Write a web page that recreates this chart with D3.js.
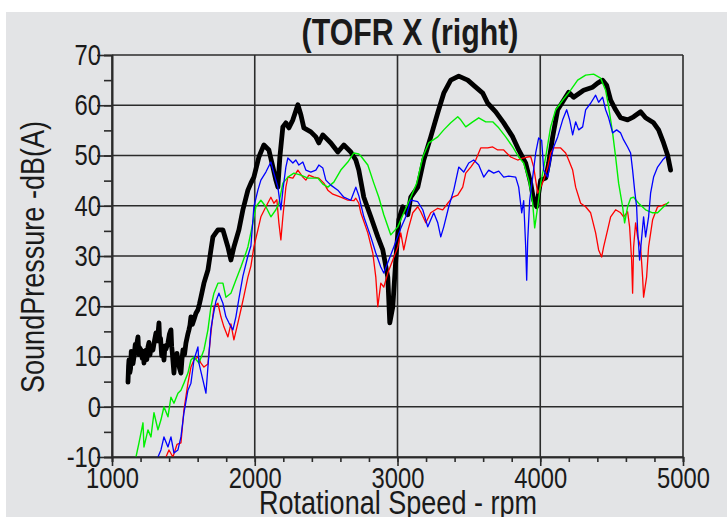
<!DOCTYPE html>
<html>
<head>
<meta charset="utf-8">
<script src="https://cdn.jsdelivr.net/npm/d3@7"></script>
<style>
  html, body { margin: 0; padding: 0; background: #fff; }
  svg { display: block; }
  text { font-family: "Liberation Sans", Arial, sans-serif; fill: #1a1a1a; }
</style>
</head>
<body>
<svg id="chart" width="727" height="517"></svg>
<script>
// Axis ticks
const xTicks = [1000, 2000, 3000, 4000, 5000];
const xMinorTicks = d3.range(1000, 5001, 200);
const yTicks = [-10, 0, 10, 20, 30, 40, 50, 60, 70];
const yMinorTicks = d3.range(-10, 71, 5);

// Series: [rpm, dB(A)]
const black = [
  [1112, 4.9], [1116, 8.1], [1119, 9.3], [1125, 6.8], [1130, 7.6], [1135, 11.0], [1140, 10.5],
  [1147, 8.6], [1154, 9.9], [1163, 12.4], [1170, 10.6], [1176, 12.9], [1182, 13.9], [1188, 10.4],
  [1192, 11.8], [1203, 11.3], [1212, 9.6], [1218, 11.0], [1224, 8.7], [1230, 10.1], [1236, 11.2],
  [1244, 9.4], [1252, 11.9], [1259, 12.8], [1266, 10.3], [1275, 12.0], [1287, 11.3], [1298, 13.2],
  [1308, 14.7], [1318, 13.1], [1329, 16.7], [1334, 13.0], [1340, 13.6], [1348, 10.2], [1357, 11.3],
  [1364, 9.3], [1371, 12.1], [1378, 11.5], [1392, 12.7], [1402, 14.4], [1413, 15.3], [1418, 12.0],
  [1422, 10.9], [1434, 6.7], [1441, 9.8], [1448, 8.4], [1455, 10.6], [1462, 9.3], [1472, 7.8],
  [1483, 6.7], [1490, 9.4], [1497, 11.3], [1508, 10.4], [1518, 12.7], [1530, 14.3], [1539, 15.3],
  [1546, 16.2], [1553, 17.9], [1563, 16.4], [1574, 17.3], [1588, 18.6], [1602, 19.3], [1612, 20.4],
  [1623, 21.8], [1644, 24.6], [1672, 27.2], [1693, 31.2], [1707, 33.8], [1742, 35.2], [1777, 35.2],
  [1812, 31.8], [1833, 29.2], [1854, 31.8], [1889, 35.2], [1917, 39.2], [1952, 43.1], [1973, 44.5],
  [1994, 45.7], [2029, 49.7], [2064, 52.1], [2099, 51.1], [2127, 47.7], [2148, 45.1], [2162, 43.7],
  [2176, 49.7], [2197, 55.7], [2218, 56.5], [2239, 55.5], [2267, 57.1], [2302, 60.1], [2323, 58.1],
  [2344, 55.5], [2393, 54.7], [2428, 53.7], [2449, 52.5], [2477, 54.1], [2533, 52.5], [2582, 50.7],
  [2624, 52.1], [2673, 50.7], [2708, 49.1], [2729, 47.1], [2764, 41.7], [2813, 37.8], [2862, 33.8],
  [2897, 31.2], [2932, 25.8], [2946, 16.7], [2967, 19.9], [2988, 29.2], [3009, 37.2], [3037, 39.8],
  [3072, 38.2], [3093, 41.7], [3142, 43.7], [3184, 49.1], [3233, 53.7], [3282, 58.5], [3324, 62.4],
  [3373, 65.0], [3429, 65.8], [3492, 65.0], [3548, 63.6], [3597, 62.4], [3632, 60.4], [3688, 58.7],
  [3744, 56.5], [3807, 53.7], [3849, 51.1], [3898, 48.5], [3933, 44.5], [3954, 41.1], [3975, 39.8],
  [3989, 42.5], [4003, 45.1], [4038, 45.5], [4059, 48.5], [4087, 53.7], [4122, 59.1], [4164, 61.0],
  [4199, 62.6], [4234, 61.6], [4304, 63.0], [4367, 63.6], [4402, 64.4], [4437, 65.0], [4465, 64.0],
  [4493, 61.0], [4528, 59.1], [4563, 57.5], [4612, 57.1], [4654, 57.7], [4703, 58.7], [4738, 57.5],
  [4794, 56.5], [4829, 55.1], [4864, 52.5], [4892, 50.1], [4913, 47.1]
];

const green = [
  [1168, -10], [1189, -7.2], [1217, -3.2], [1224, -8], [1252, -4.6], [1273, -6], [1294, -1.2],
  [1322, -4.6], [1343, -2.6], [1364, 0.0], [1392, -2], [1413, 1.9], [1434, 0.7], [1462, 2.7],
  [1483, 3.3], [1504, 4.7], [1532, 6.7], [1553, 9.3], [1574, 9.9], [1609, 8.7], [1644, 11.3],
  [1672, 15.3], [1693, 19.9], [1714, 22.6], [1742, 24.6], [1777, 24.6], [1798, 21.8], [1833, 22.6],
  [1868, 25.2], [1903, 27.8], [1938, 30.6], [1952, 31.8], [1987, 36.6], [2008, 39.8], [2043, 41.1],
  [2078, 39.8], [2113, 37.8], [2148, 39.2], [2169, 40.5], [2197, 44.5], [2232, 45.7], [2274, 46.5],
  [2323, 46.1], [2372, 45.5], [2442, 45.5], [2477, 44.3], [2512, 43.7], [2554, 44.7], [2603, 47.1],
  [2652, 48.7], [2694, 50.5], [2729, 50.3], [2743, 49.9], [2792, 48.1], [2834, 44.5], [2869, 41.7],
  [2904, 38.2], [2953, 34.2], [3002, 35.8], [3044, 38.6], [3093, 41.7], [3135, 44.5], [3177, 49.7],
  [3219, 52.5], [3282, 53.7], [3324, 55.1], [3373, 56.5], [3422, 57.7], [3443, 57.1], [3478, 55.7],
  [3527, 56.7], [3569, 57.5], [3618, 56.7], [3667, 56.7], [3709, 55.5], [3758, 53.7], [3807, 51.7],
  [3849, 49.7], [3884, 48.5], [3919, 45.1], [3947, 40.5], [3961, 35.6], [3982, 39.8], [4003, 44.4],
  [4038, 49.7], [4073, 55.7], [4108, 59.1], [4157, 61.0], [4213, 63.0], [4262, 65.0], [4318, 66.0],
  [4374, 66.2], [4423, 65.4], [4458, 63.0], [4479, 59.7], [4507, 54.5], [4528, 49.7], [4549, 44.5],
  [4577, 39.8], [4591, 36.6], [4612, 39.8], [4633, 41.5], [4654, 41.7], [4689, 40.5], [4738, 39.2],
  [4787, 38.6], [4822, 38.6], [4857, 39.6], [4899, 40.7]
];

const blue = [
  [1322, -10], [1343, -8.6], [1364, -6], [1392, -8], [1413, -6], [1434, -9.2], [1462, -8.6],
  [1483, -6], [1504, -1.2], [1532, 3.3], [1553, 4.7], [1574, 9.3], [1602, 11.9], [1609, 8.7],
  [1637, 5.3], [1658, 2.7], [1672, 7.9], [1693, 15.5], [1707, 17.9], [1728, 21.0], [1749, 22.6],
  [1777, 20.6], [1798, 17.9], [1819, 16.7], [1847, 15.3], [1868, 17.9], [1889, 21.5], [1917, 26.0],
  [1952, 30.0], [1973, 32.0], [1994, 39.8], [2022, 43.1], [2043, 45.1], [2078, 46.7], [2113, 48.7],
  [2134, 46.5], [2162, 43.7], [2183, 39.2], [2197, 43.1], [2218, 47.7], [2232, 49.5], [2267, 48.5],
  [2288, 49.1], [2309, 48.1], [2337, 48.7], [2358, 47.1], [2393, 46.7], [2428, 47.1], [2449, 48.1],
  [2477, 47.5], [2498, 45.1], [2533, 44.1], [2582, 43.1], [2624, 41.7], [2673, 41.1], [2708, 43.7],
  [2729, 42.0], [2764, 37.8], [2813, 33.8], [2848, 30.6], [2883, 27.8], [2904, 26.6], [2939, 29.2],
  [2974, 31.8], [3023, 35.5], [3058, 37.8], [3093, 41.1], [3142, 40.8], [3177, 39.2], [3212, 35.8],
  [3233, 37.2], [3254, 38.6], [3282, 36.6], [3303, 33.8], [3324, 35.8], [3359, 39.8], [3394, 43.1],
  [3429, 47.7], [3464, 46.7], [3499, 48.5], [3534, 49.1], [3569, 48.1], [3604, 45.7], [3639, 47.1],
  [3674, 46.5], [3709, 46.9], [3744, 45.7], [3779, 45.9], [3828, 45.7], [3849, 43.7], [3870, 38.6],
  [3884, 41.0], [3898, 31.8], [3905, 25.2], [3912, 33.0], [3926, 41.1], [3947, 45.7], [3968, 50.5],
  [3989, 53.5], [4010, 53.0], [4024, 47.1], [4052, 45.7], [4073, 49.1], [4094, 51.7], [4122, 53.7],
  [4157, 57.1], [4185, 59.1], [4206, 57.1], [4227, 54.1], [4248, 56.7], [4269, 55.1], [4297, 55.7],
  [4318, 59.1], [4353, 60.4], [4388, 62.0], [4409, 60.6], [4437, 61.6], [4458, 59.1], [4479, 57.5],
  [4507, 54.5], [4535, 55.1], [4563, 54.5], [4584, 53.1], [4612, 51.7], [4633, 50.5], [4647, 47.1],
  [4661, 43.1], [4675, 39.8], [4682, 35.2], [4696, 29.2], [4710, 33.5], [4724, 37.8], [4738, 33.8],
  [4759, 37.8], [4773, 42.5], [4794, 45.7], [4822, 47.7], [4857, 49.1], [4878, 49.7]
];

const red = [
  [1378, -10], [1399, -8.6], [1427, -10], [1455, -7.5], [1483, -7.2], [1504, -0.6], [1532, 4.7],
  [1553, 7.9], [1574, 9.3], [1602, 9.9], [1623, 8.7], [1644, 7.9], [1672, 8.5], [1693, 14.7],
  [1714, 19.9], [1742, 20.6], [1763, 17.9], [1784, 15.9], [1812, 13.9], [1833, 16.5], [1854, 13.3],
  [1882, 16.7], [1903, 19.3], [1924, 22.0], [1952, 25.8], [1973, 28.0], [1994, 31.8], [2022, 35.2],
  [2043, 37.8], [2078, 39.8], [2113, 41.7], [2134, 40.5], [2155, 41.2], [2169, 36.6], [2183, 33.2],
  [2197, 37.8], [2218, 43.7], [2232, 45.7], [2267, 45.5], [2302, 47.1], [2337, 45.7], [2358, 45.1],
  [2379, 46.1], [2414, 45.7], [2449, 45.5], [2484, 44.5], [2512, 43.1], [2547, 42.3], [2603, 41.7],
  [2652, 41.1], [2694, 41.0], [2708, 41.5], [2729, 40.5], [2743, 38.6], [2792, 34.6], [2827, 30.6],
  [2848, 25.8], [2862, 19.9], [2883, 24.6], [2904, 23.8], [2932, 26.6], [2967, 29.2], [3002, 31.8],
  [3023, 34.6], [3044, 31.2], [3072, 35.0], [3107, 38.6], [3142, 39.8], [3163, 38.8], [3198, 36.6],
  [3233, 38.6], [3282, 39.5], [3317, 39.2], [3352, 40.5], [3387, 41.7], [3422, 42.1], [3457, 43.7],
  [3478, 46.5], [3513, 47.7], [3548, 49.1], [3583, 51.5], [3632, 51.5], [3667, 51.7], [3702, 51.1],
  [3744, 51.1], [3793, 49.7], [3842, 49.1], [3877, 49.5], [3912, 49.7], [3933, 49.8], [3954, 47.7],
  [3982, 42.5], [4003, 43.7], [4024, 45.1], [4052, 47.7], [4073, 50.5], [4094, 51.5], [4143, 51.5],
  [4178, 50.5], [4199, 49.1], [4227, 47.1], [4248, 43.7], [4283, 40.5], [4318, 39.8], [4353, 38.6],
  [4388, 34.6], [4409, 31.2], [4430, 29.8], [4444, 31.8], [4472, 35.2], [4493, 37.8], [4528, 39.2],
  [4563, 38.6], [4584, 37.8], [4612, 38.8], [4626, 35.8], [4640, 29.2], [4647, 22.6], [4654, 31.8],
  [4668, 36.6], [4682, 33.8], [4703, 31.8], [4717, 25.8], [4724, 21.8], [4745, 25.8], [4759, 31.8],
  [4787, 37.2], [4822, 39.8], [4857, 40.1], [4892, 40.5]
];

const series = [
  { name: 'black', values: black, color: '#000000', width: 4.8 },
  { name: 'red', values: red, color: '#ff0000', width: 1.3 },
  { name: 'green', values: green, color: '#00f000', width: 1.4 },
  { name: 'blue', values: blue, color: '#0000ff', width: 1.3 }
];

const GRID_COLOR = '#2b2b2b';
// Texts in the original are set in a condensed face; squeeze them horizontally
const SQUEEZE = 0.82;
const plot = { left: 112, right: 683, top: 55, bottom: 457 };

const svg = d3.select('#chart');

// Panel background
svg.append('rect')
  .attr('x', 6)
  .attr('y', 12)
  .attr('width', 721)
  .attr('height', 505)
  .attr('fill', '#e3e4e6');

const x = d3.scaleLinear().domain([1000, 5000]).range([plot.left, plot.right]);
const y = d3.scaleLinear().domain([-10, 70]).range([plot.bottom, plot.top]);

// Grid
const grid = svg.append('g')
  .attr('stroke', GRID_COLOR)
  .attr('stroke-width', 1.6);

grid.selectAll('line.h')
  .data(yTicks)
  .join('line')
    .attr('class', 'h')
    .attr('x1', plot.left)
    .attr('x2', plot.right)
    .attr('y1', d => y(d))
    .attr('y2', d => y(d));

grid.selectAll('line.v')
  .data(xTicks)
  .join('line')
    .attr('class', 'v')
    .attr('x1', d => x(d))
    .attr('x2', d => x(d))
    .attr('y1', plot.top)
    .attr('y2', plot.bottom);

// Curves
svg.append('clipPath')
  .attr('id', 'plot-clip')
  .append('rect')
    .attr('x', plot.left)
    .attr('y', plot.top)
    .attr('width', plot.right - plot.left)
    .attr('height', plot.bottom - plot.top);

const line = d3.line()
  .x(d => x(d[0]))
  .y(d => y(d[1]));

svg.append('g')
  .attr('clip-path', 'url(#plot-clip)')
  .selectAll('path')
  .data(series)
  .join('path')
    .attr('d', d => line(d.values))
    .attr('fill', 'none')
    .attr('stroke', d => d.color)
    .attr('stroke-width', d => d.width)
    .attr('stroke-linejoin', 'round')
    .attr('stroke-linecap', 'round');

// Axes
const styleAxis = (g) => {
  g.select('.domain').attr('stroke', GRID_COLOR).attr('stroke-width', 1.6);
  g.selectAll('.tick line').attr('stroke', GRID_COLOR).attr('stroke-width', 1.6);
  g.selectAll('.tick text')
    .attr('fill', '#1a1a1a')
    .style('font-size', '29px')
    .attr('x', function scaleX () { return (+d3.select(this).attr('x') || 0) / SQUEEZE; })
    .attr('transform', `scale(${SQUEEZE},1)`);
};

const plainFormat = d => String(d);

svg.append('g')
  .attr('transform', `translate(${plot.left},0)`)
  .call(d3.axisLeft(y).tickValues(yMinorTicks).tickSize(8).tickFormat(''))
  .call(styleAxis);

svg.append('g')
  .attr('transform', `translate(${plot.left},0)`)
  .call(d3.axisLeft(y).tickValues(yTicks).tickSize(15).tickPadding(-4)
    .tickSizeOuter(0).tickFormat(plainFormat))
  .call(styleAxis);

svg.append('g')
  .attr('transform', `translate(0,${plot.bottom})`)
  .call(d3.axisBottom(x).tickValues(xMinorTicks).tickSize(5).tickFormat(''))
  .call(styleAxis);

svg.append('g')
  .attr('transform', `translate(0,${plot.bottom})`)
  .call(d3.axisBottom(x).tickValues(xTicks).tickSize(9).tickPadding(1)
    .tickSizeOuter(0).tickFormat(plainFormat))
  .call(styleAxis);

// Titles
svg.append('text')
  .attr('transform', `translate(410,45) scale(${SQUEEZE},1)`)
  .attr('text-anchor', 'middle')
  .style('font-size', '37px')
  .style('font-weight', 'bold')
  .text('(TOFR X (right)');

svg.append('text')
  .attr('transform', `translate(398,514) scale(${SQUEEZE},1)`)
  .attr('text-anchor', 'middle')
  .style('font-size', '33px')
  .text('Rotational Speed - rpm');

svg.append('text')
  .attr('transform', `translate(44,257) rotate(-90) scale(${SQUEEZE},1)`)
  .attr('text-anchor', 'middle')
  .style('font-size', '33px')
  .text('SoundPressure -dB(A)');
</script>
</body>
</html>
